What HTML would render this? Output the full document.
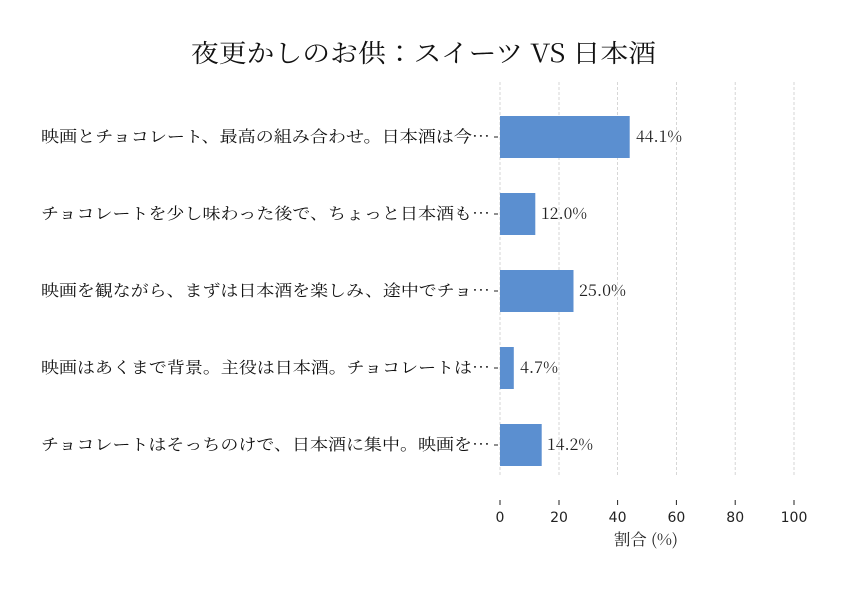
<!DOCTYPE html>
<html><head><meta charset="utf-8"><style>
body{margin:0;background:#fff}
.s{font-family:"Noto Serif CJK JP","Liberation Serif",serif}
.g{font-family:"DejaVu Sans","Liberation Sans","Noto Sans CJK JP",sans-serif}
</style></head><body>
<svg width="846" height="588" xmlns="http://www.w3.org/2000/svg">
<rect width="846" height="588" fill="#fff"/>
<text x="191" y="62" textLength="465" lengthAdjust="spacingAndGlyphs" class="s" font-size="25" fill="#111">夜更かしのお供：スイーツ VS 日本酒</text>
<g stroke="#ccc" stroke-width="0.8" stroke-dasharray="3,2">
<line x1="500" y1="82" x2="500" y2="476"/><line x1="559" y1="82" x2="559" y2="476"/>
<line x1="617.6" y1="82" x2="617.6" y2="476"/><line x1="676.4" y1="82" x2="676.4" y2="476"/>
<line x1="735.2" y1="82" x2="735.2" y2="476"/><line x1="794" y1="82" x2="794" y2="476"/>
</g>
<g fill="#5b8fd0">
<rect x="500" y="116" width="129.7" height="42"/>
<rect x="500" y="193" width="35.3" height="42"/>
<rect x="500" y="270" width="73.5" height="42"/>
<rect x="500" y="347" width="13.8" height="42"/>
<rect x="500" y="424" width="41.7" height="42"/>
</g>
<g stroke="#222" stroke-width="1">
<line x1="500" y1="500" x2="500" y2="505"/><line x1="559" y1="500" x2="559" y2="505"/>
<line x1="617.6" y1="500" x2="617.6" y2="505"/><line x1="676.4" y1="500" x2="676.4" y2="505"/>
<line x1="735.2" y1="500" x2="735.2" y2="505"/><line x1="794" y1="500" x2="794" y2="505"/>
<line x1="494" y1="137" x2="498" y2="137"/><line x1="494" y1="214" x2="498" y2="214"/>
<line x1="494" y1="291" x2="498" y2="291"/><line x1="494" y1="368" x2="498" y2="368"/>
<line x1="494" y1="445" x2="498" y2="445"/>
</g>
<g class="g" font-size="14" fill="#222" text-anchor="middle">
<text x="500" y="522">0</text><text x="559" y="522">20</text><text x="617.6" y="522">40</text>
<text x="676.4" y="522">60</text><text x="735.2" y="522">80</text><text x="794" y="522">100</text>
</g>
<text x="614" y="545" textLength="64" lengthAdjust="spacingAndGlyphs" class="s" font-size="16" fill="#222">割合 (%)</text>
<g class="s" font-size="16" fill="#222">
<text x="636" y="142" textLength="46" lengthAdjust="spacingAndGlyphs">44.1%</text>
<text x="541" y="219" textLength="46" lengthAdjust="spacingAndGlyphs">12.0%</text>
<text x="579" y="296" textLength="47" lengthAdjust="spacingAndGlyphs">25.0%</text>
<text x="520" y="373" textLength="38" lengthAdjust="spacingAndGlyphs">4.7%</text>
<text x="547" y="450" textLength="46" lengthAdjust="spacingAndGlyphs">14.2%</text>
</g>
<g class="s" font-size="16" fill="#111">
<text x="41" y="142" textLength="449" lengthAdjust="spacingAndGlyphs">映画とチョコレート、最高の組み合わせ。日本酒は今…</text>
<text x="41" y="219" textLength="449" lengthAdjust="spacingAndGlyphs">チョコレートを少し味わった後で、ちょっと日本酒も…</text>
<text x="41" y="296" textLength="449" lengthAdjust="spacingAndGlyphs">映画を観ながら、まずは日本酒を楽しみ、途中でチョ…</text>
<text x="41" y="373" textLength="449" lengthAdjust="spacingAndGlyphs">映画はあくまで背景。主役は日本酒。チョコレートは…</text>
<text x="41" y="450" textLength="449" lengthAdjust="spacingAndGlyphs">チョコレートはそっちのけで、日本酒に集中。映画を…</text>
</g>
</svg>
</body></html>
